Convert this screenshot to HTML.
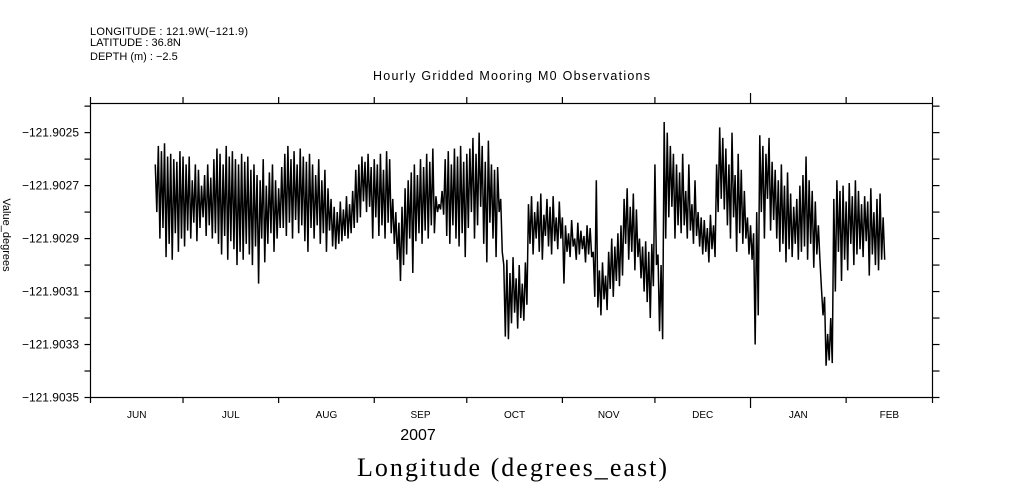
<!DOCTYPE html>
<html><head><meta charset="utf-8"><style>
html,body{margin:0;padding:0;background:#fff;width:1009px;height:504px;overflow:hidden}
svg{display:block}
text{font-family:"Liberation Sans","DejaVu Sans",sans-serif;fill:#000}
</style></head><body>
<svg id="chart" width="1009" height="504" viewBox="0 0 1009 504">
<g>
<text x="90" y="35" font-size="11" textLength="158">LONGITUDE : 121.9W(−121.9)</text>
<text x="90" y="46" font-size="11">LATITUDE : 36.8N</text>
<text x="90" y="60" font-size="11">DEPTH (m) : −2.5</text>
</g>
<text x="373" y="80" font-size="12.5" textLength="277">Hourly Gridded Mooring M0 Observations</text>
<text transform="translate(3,235) rotate(90)" font-size="11" text-anchor="middle">Value_degrees</text>
<g id="axes"></g>
<path id="series" fill="none" stroke="#000" stroke-width="1.5"/>
<text x="418" y="440" font-size="16" text-anchor="middle">2007</text>
<text x="357" y="476" font-size="26" textLength="310" style="font-family:'Liberation Serif','DejaVu Serif',serif">Longitude (degrees_east)</text>
</svg>
<script>
const months = ["JUN","JUL","AUG","SEP","OCT","NOV","DEC","JAN","FEB"];
const monthStartDays = [0,30,61,92,122,153,183,214,245,273];
const yTickValues = [-121.9035,-121.9033,-121.9031,-121.9029,-121.9027,-121.9025];
const yMinorValues = [-121.9034,-121.9032,-121.9030,-121.9028,-121.9026,-121.9024];
const yTickLabels = ["-121.9035","-121.9033","-121.9031","-121.9029","-121.9027","-121.9025"];
const startDay = 21;
const stepDays = 0.5;
const codes = [262,280,255,290,257,286,254,297,259,292,258,298,260,288,261,295,257,290,259,293,
262,287,259,290,268,284,262,291,264,286,270,282,266,289,262,285,267,290,260,288,
256,292,258,296,262,289,255,298,259,291,257,294,260,300,262,295,258,298,261,292,
259,296,264,300,262,293,266,307,268,290,260,299,270,292,265,288,262,295,268,290,271,286,
263,286,258,289,255,284,260,290,257,283,262,288,256,285,259,291,261,295,258,286,
262,290,266,285,260,292,268,288,264,295,271,287,275,293,
278,294,280,292,276,291,279,289,274,290,277,288,272,286,264,284,262,282,
259,276,261,280,258,278,263,290,260,282,262,289,258,285,264,290,257,284,260,288,
275,292,280,298,284,306,278,300,271,296,
268,290,265,303,262,291,266,288,260,292,263,287,258,290,261,285,256,288,
274,280,277,279,272,281,
260,289,257,292,262,285,256,290,259,293,255,288,261,297,258,286,
256,280,252,290,258,285,250,278,255,292,261,299,253,284,
262,290,264,297,263,280,275,295,
300,327,298,328,303,322,297,318,305,324,300,320,307,321,299,315,
277,292,274,296,280,290,276,295,273,298,281,289,275,293,278,296,274,291,282,294,276,290,
282,307,285,295,288,297,283,293,290,298,284,296,287,294,289,299,285,296,286,297,
295,312,268,316,302,319,299,313,304,317,
295,309,290,312,293,306,288,308,285,304,
275,292,271,298,278,295,273,302,279,297,
290,305,293,310,291,314,295,320,292,308,
262,300,296,325,300,328,
246,290,250,282,255,278,258,290,262,285,
265,288,258,285,272,290,262,287,277,292,268,289,280,293,282,296,
283,295,286,299,281,294,285,297,
262,280,248,275,252,279,
256,285,262,290,250,282,266,295,258,288,264,292,272,290,282,296,
285,298,288,330,280,319,
251,280,255,290,258,275,252,287,261,283,264,290,
268,295,262,292,270,299,265,294,273,297,278,292,275,298,270,295,
266,293,259,298,268,292,272,301,276,296,285,298,
309,319,312,338,326,336,320,337,
275,310,268,295,272,306,270,298,276,302,269,292,274,300,268,296,272,294,277,297,274,291,276,304,271,296,280,300,275,302,273,298,282,298];
const values = codes.map(c => -121.9 - c * 1e-5);

const L=90.5, R=932.5, T=103.5, B=397.5;
const dayMax = 273;
const xScale = d => L + d / dayMax * (R - L);
const yScale = v => B - (v - (-121.9035)) / 0.00111 * (B - T);

const ns = "http://www.w3.org/2000/svg";
const axes = document.getElementById("axes");
function mk(tag, attrs){ const e=document.createElementNS(ns,tag); for(const k in attrs) e.setAttribute(k,attrs[k]); axes.appendChild(e); return e; }

const frame = mk("rect",{x:L,y:T,width:R-L,height:B-T,fill:"none",stroke:"#000","stroke-width":1.2});



monthStartDays.forEach((d,i) => {
  const x = xScale(d);
  const big = (d === 214);
  const t1 = mk("line",{x1:x,x2:x,y1:T,y2:big?93:97,stroke:"#000","stroke-width":1.2});
  
  
  const t2 = mk("line",{x1:x,x2:x,y1:B,y2:big?408:403,stroke:"#000","stroke-width":1.2});
  
  
  if (i < months.length) {
    const mid = xScale((d + monthStartDays[i+1]) / 2);
    const lab = mk("text",{x:mid,y:418,"font-size":10,"text-anchor":"middle"});
    lab.textContent = months[i];
    
    
  }
});

yTickValues.concat(yMinorValues).forEach(v => {
  const y = yScale(v);
  const a = mk("line",{x1:L-6,x2:L,y1:y,y2:y,stroke:"#000","stroke-width":1.2});
  
  
  const b = mk("line",{x1:R,x2:R+7,y1:y,y2:y,stroke:"#000","stroke-width":1.2});
  
  
});
yTickValues.forEach((v,i) => {
  const lab = mk("text",{x:79,y:yScale(v)+4,"font-size":12,"text-anchor":"end"});
  lab.textContent = yTickLabels[i].replace("-","−");
  
  
});

let d = "";
values.forEach((v,i) => {
  const x = xScale(startDay + i * stepDays), y = yScale(v);
  d += (i ? "L" : "M") + x.toFixed(2) + "," + y.toFixed(2);
});
document.getElementById("series").setAttribute("d", d);
</script>
</body></html>
